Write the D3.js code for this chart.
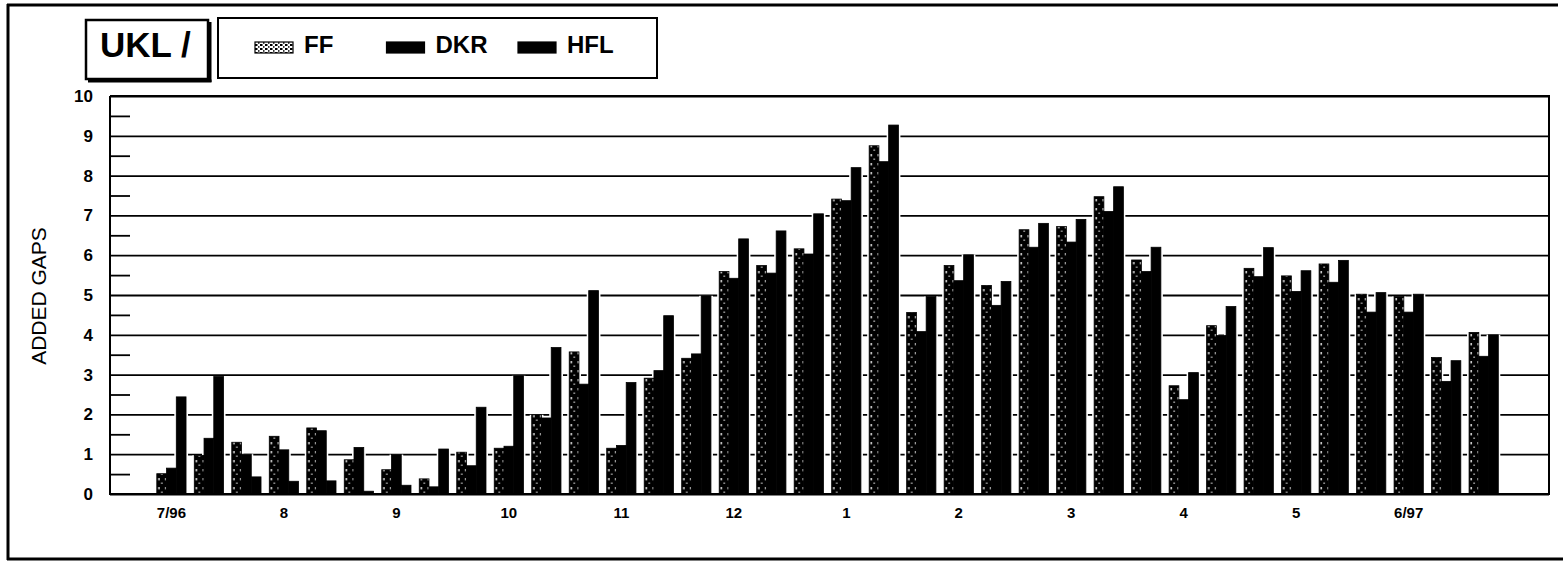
<!DOCTYPE html>
<html>
<head>
<meta charset="utf-8">
<script src="https://cdn.jsdelivr.net/npm/d3@7/dist/d3.min.js"></script>
<style>
  html, body { margin: 0; padding: 0; background: #fff; }
  svg { display: block; font-family: "Liberation Sans", Arial, Helvetica, sans-serif; }
</style>
</head>
<body>
<svg id="chart" width="1563" height="562"></svg>
<script>
// ---------------- DATA ----------------
const periods = [
  "Jul96-1","Jul96-2","Jul96-3","Aug96-1","Aug96-2","Aug96-3",
  "Sep96-1","Sep96-2","Sep96-3","Oct96-1","Oct96-2","Oct96-3",
  "Nov96-1","Nov96-2","Nov96-3","Dec96-1","Dec96-2","Dec96-3",
  "Jan97-1","Jan97-2","Jan97-3","Feb97-1","Feb97-2","Feb97-3",
  "Mar97-1","Mar97-2","Mar97-3","Apr97-1","Apr97-2","Apr97-3",
  "May97-1","May97-2","May97-3","Jun97-1","Jun97-2","Jun97-3"
];
const series = ["FF", "DKR", "HFL"];
const ffValues  = [0.51,0.97,1.30,1.45,1.66,0.86,0.61,0.38,1.05,1.15,1.99,3.57,
                   1.15,2.91,3.41,5.59,5.74,6.16,7.41,8.75,4.56,5.74,5.24,6.64,
                   6.72,7.47,5.88,2.72,4.23,5.67,5.48,5.78,5.02,4.96,3.43,4.06];
const dkrValues = [0.65,1.40,1.00,1.11,1.59,1.17,0.99,0.18,0.71,1.20,1.91,2.76,
                   1.22,3.10,3.52,5.42,5.55,6.03,7.37,8.35,4.08,5.36,4.74,6.20,
                   6.33,7.10,5.59,2.37,3.98,5.46,5.09,5.32,4.57,4.57,2.83,3.46];
const hflValues = [2.44,2.95,0.43,0.32,0.33,0.07,0.22,1.13,2.18,2.97,3.68,5.11,
                   2.80,4.48,4.98,6.41,6.61,7.04,8.20,9.27,4.96,6.01,5.34,6.80,
                   6.90,7.72,6.20,3.05,4.71,6.19,5.61,5.87,5.06,5.02,3.35,4.00];
const tickPeriods = ["Jul96-1","Aug96-1","Sep96-1","Oct96-1","Nov96-1","Dec96-1",
                     "Jan97-1","Feb97-1","Mar97-1","Apr97-1","May97-1","Jun97-1"];
const tickLabels  = ["7/96","8","9","10","11","12","1","2","3","4","5","6/97"];
const yMajorTicks = [0,1,2,3,4,5,6,7,8,9,10];
const yMinorTicks = [0.5,1.5,2.5,3.5,4.5,5.5,6.5,7.5,8.5,9.5];
const titleText = "UKL /";
const yAxisTitle = "ADDED GAPS";

// ---------------- LAYOUT ----------------
const svg = d3.select("#chart");
const plot = { left: 110, right: 1549, top: 96, bottom: 494 };

const rows = periods.map((p, i) => ({ period: p, FF: ffValues[i], DKR: dkrValues[i], HFL: hflValues[i] }));

const x0 = d3.scaleBand().domain(periods).range([plot.left, plot.right])
  .paddingInner(0.22).paddingOuter(1.3).align(0.48);
const x1 = d3.scaleBand().domain(series).range([0, x0.bandwidth()]).padding(0);
const y = d3.scaleLinear().domain([0, 10]).range([plot.bottom, plot.top]);

// patterns
const defs = svg.append("defs");
const pat = defs.append("pattern").attr("id", "ffPat")
  .attr("patternUnits", "userSpaceOnUse").attr("width", 7).attr("height", 9);
pat.append("rect").attr("width", 7).attr("height", 9).attr("fill", "#000");
pat.append("rect").attr("x", 1.5).attr("y", 1).attr("width", 1.3).attr("height", 2.4).attr("fill", "#fff");
pat.append("rect").attr("x", 4.5).attr("y", 5.5).attr("width", 1.1).attr("height", 1.4).attr("fill", "#fff");

const patL = defs.append("pattern").attr("id", "ffLegPat")
  .attr("patternUnits", "userSpaceOnUse").attr("width", 5).attr("height", 4);
patL.append("rect").attr("width", 5).attr("height", 4).attr("fill", "#fff");
patL.append("rect").attr("x", 0).attr("y", 0).attr("width", 2.5).attr("height", 2).attr("fill", "#000");
patL.append("rect").attr("x", 3).attr("y", 2.2).attr("width", 1.5).attr("height", 1.5).attr("fill", "#000");

const fills = { FF: "url(#ffPat)", DKR: "#000", HFL: "#000" };

// outer frame
const frame = svg.append("g").attr("stroke", "#000").attr("stroke-width", 3);
frame.append("line").attr("x1", 7).attr("y1", 5).attr("x2", 1558).attr("y2", 5);
frame.append("line").attr("x1", 8).attr("y1", 4).attr("x2", 8).attr("y2", 560);
frame.append("line").attr("x1", 7).attr("y1", 559).attr("x2", 1563).attr("y2", 559);

// title box
svg.append("rect").attr("x", 86).attr("y", 20).attr("width", 122).attr("height", 59)
  .attr("fill", "#fff").attr("stroke", "#000").attr("stroke-width", 2.5);
svg.append("line").attr("x1", 210).attr("y1", 22).attr("x2", 210).attr("y2", 82)
  .attr("stroke", "#000").attr("stroke-width", 3);
svg.append("line").attr("x1", 88).attr("y1", 81).attr("x2", 211.5).attr("y2", 81)
  .attr("stroke", "#000").attr("stroke-width", 3);
svg.append("text").attr("x", 100).attr("y", 57).attr("font-size", 35).attr("font-weight", "bold")
  .text(titleText);

// legend box
svg.append("rect").attr("x", 218).attr("y", 18).attr("width", 439).attr("height", 60)
  .attr("fill", "#fff").attr("stroke", "#000").attr("stroke-width", 2);
const leg = svg.append("g");
series.forEach((s, i) => {
  const lx = 255 + i * 131.5;
  leg.append("rect").attr("x", lx).attr("y", 42).attr("width", 38).attr("height", 11)
    .attr("fill", s === "FF" ? "url(#ffLegPat)" : fills[s])
    .attr("stroke", "#000").attr("stroke-width", 1.2);
  leg.append("text").attr("x", lx + 49).attr("y", 53).attr("font-size", 24).attr("font-weight", "bold")
    .text(s);
});

// gridlines
svg.append("g").attr("transform", `translate(${plot.left},0)`)
  .call(d3.axisLeft(y).tickValues(yMajorTicks).tickSize(-(plot.right - plot.left)).tickFormat(""))
  .call(g => g.select(".domain").remove())
  .call(g => g.selectAll("line").attr("stroke", "#000").attr("stroke-width", 1.8));

// minor ticks (inside)
svg.append("g").attr("transform", `translate(${plot.left},0)`)
  .call(d3.axisLeft(y).tickValues(yMinorTicks).tickSize(-20).tickFormat(""))
  .call(g => g.select(".domain").remove())
  .call(g => g.selectAll("line").attr("stroke", "#000").attr("stroke-width", 1.8));

// y tick labels
svg.append("g").attr("transform", `translate(${plot.left},0)`)
  .call(d3.axisLeft(y).tickValues(yMajorTicks).tickSize(0).tickPadding(17).tickFormat(d3.format("d")))
  .call(g => g.select(".domain").remove())
  .call(g => g.selectAll("text").attr("font-size", 17).attr("font-weight", "bold")
    .attr("font-family", "'Liberation Sans', Arial, sans-serif").attr("fill", "#000"));

// bars
const groups = svg.append("g").selectAll("g").data(rows).join("g")
  .attr("transform", d => `translate(${x0(d.period)},0)`);
const barData = d => series.map(s => ({ key: s, value: d[s] }));
// white halo behind bars
groups.selectAll("rect.halo").data(barData).join("rect").attr("class", "halo")
  .attr("x", d => x1(d.key) - 2).attr("width", x1.bandwidth() + 4)
  .attr("y", d => y(d.value)).attr("height", d => y(0) - y(d.value))
  .attr("fill", "#fff");
groups.selectAll("rect.bar").data(barData).join("rect").attr("class", "bar")
  .attr("x", d => x1(d.key)).attr("width", x1.bandwidth())
  .attr("y", d => y(d.value)).attr("height", d => y(0) - y(d.value))
  .attr("fill", d => fills[d.key])
  .attr("stroke", "#000").attr("stroke-width", 0.8);

// plot frame lines
const pf = svg.append("g").attr("stroke", "#000").attr("stroke-width", 2).attr("fill", "none");
pf.append("line").attr("x1", plot.left).attr("y1", y(10)).attr("x2", plot.left).attr("y2", y(0) + 1);
pf.append("line").attr("x1", plot.left).attr("y1", y(0)).attr("x2", plot.right + 1).attr("y2", y(0));
pf.append("line").attr("x1", plot.right).attr("y1", y(10)).attr("x2", plot.right).attr("y2", y(0) + 1);
pf.append("line").attr("x1", plot.left).attr("y1", y(10)).attr("x2", plot.right + 1).attr("y2", y(10));

// x labels
const labelMap = new Map(tickPeriods.map((p, i) => [p, tickLabels[i]]));
svg.append("g").attr("transform", `translate(0,${plot.bottom})`)
  .call(d3.axisBottom(x0).tickValues(tickPeriods).tickSize(0).tickPadding(13).tickFormat(p => labelMap.get(p)))
  .call(g => g.select(".domain").remove())
  .call(g => g.selectAll("text").attr("font-size", 15).attr("font-weight", "bold")
    .attr("font-family", "'Liberation Sans', Arial, sans-serif").attr("fill", "#000"));

// y axis title
svg.append("text").attr("transform", "translate(38,296) rotate(-90)")
  .attr("text-anchor", "middle").attr("dominant-baseline", "central")
  .attr("font-size", 21).text(yAxisTitle);
</script>
</body>
</html>
